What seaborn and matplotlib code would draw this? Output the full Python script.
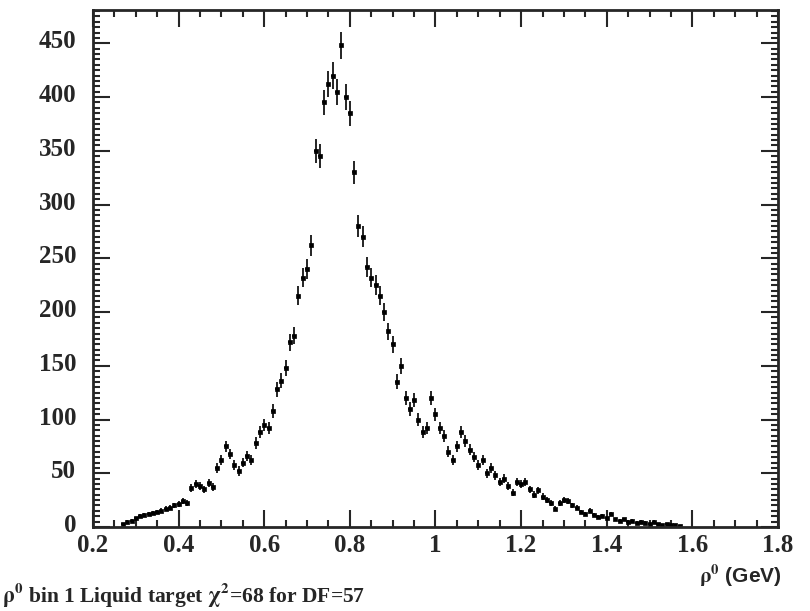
import numpy as np
import pandas as pd
import matplotlib
matplotlib.use("Agg")
import matplotlib.pyplot as plt
import matplotlib.transforms as mtransforms
from matplotlib.ticker import MultipleLocator, FixedLocator, FixedFormatter
import seaborn as sns

sns.set_style("ticks")
plt.rcParams['font.family'] = ['Liberation Serif', 'DejaVu Serif']
plt.rcParams['mathtext.fontset'] = 'stix'

# rho0 mass bins (GeV), counts
mass = [0.27, 0.28, 0.29, 0.30, 0.31, 0.32, 0.33, 0.34, 0.35, 0.36,
        0.37, 0.38, 0.39, 0.40, 0.41, 0.42, 0.43, 0.44, 0.45, 0.46,
        0.47, 0.48, 0.49, 0.50, 0.51, 0.52, 0.53, 0.54, 0.55, 0.56,
        0.57, 0.58, 0.59, 0.60, 0.61, 0.62, 0.63, 0.64, 0.65, 0.66,
        0.67, 0.68, 0.69, 0.70, 0.71, 0.72, 0.73, 0.74, 0.75, 0.76,
        0.77, 0.78, 0.79, 0.80, 0.81, 0.82, 0.83, 0.84, 0.85, 0.86,
        0.87, 0.88, 0.89, 0.90, 0.91, 0.92, 0.93, 0.94, 0.95, 0.96,
        0.97, 0.98, 0.99, 1.00, 1.01, 1.02, 1.03, 1.04, 1.05, 1.06,
        1.07, 1.08, 1.09, 1.10, 1.11, 1.12, 1.13, 1.14, 1.15, 1.16,
        1.17, 1.18, 1.19, 1.20, 1.21, 1.22, 1.23, 1.24, 1.25, 1.26,
        1.27, 1.28, 1.29, 1.30, 1.31, 1.32, 1.33, 1.34, 1.35, 1.36,
        1.37, 1.38, 1.39, 1.40, 1.41, 1.42, 1.43, 1.44, 1.45, 1.46,
        1.47, 1.48, 1.49, 1.50, 1.51, 1.52, 1.53, 1.54, 1.55, 1.56,
        1.57]
counts = [3, 5, 6, 8, 10, 11, 12, 13, 14, 15,
          17, 18, 20, 21, 24, 22, 36, 40, 38, 35,
          41, 37, 55, 62, 75, 68, 58, 52, 60, 66,
          62, 78, 88, 95, 92, 108, 128, 136, 148, 172,
          178, 215, 232, 240, 262, 350, 345, 395, 412, 420,
          405, 448, 400, 385, 330, 280, 270, 242, 232, 225,
          215, 200, 182, 170, 135, 150, 120, 110, 118, 100,
          88, 92, 120, 105, 92, 85, 70, 62, 75, 88,
          80, 72, 65, 58, 62, 50, 55, 48, 42, 45,
          38, 32, 42, 40, 42, 35, 30, 34, 28, 25,
          22, 17, 22, 25, 24, 20, 18, 14, 12, 15,
          11, 9, 10, 8, 12, 7, 6, 7, 5, 6,
          4, 5, 4, 3, 5, 3, 2, 3, 2, 2,
          1]

df = pd.DataFrame({"mass": mass, "counts": counts})
df["err"] = np.sqrt(df["counts"]) * 0.6

fig = plt.figure(figsize=(8.1, 6.11), dpi=100)
ax = fig.add_axes([0.1148, 0.1375, 0.8457, 0.8461])

ax.errorbar(df["mass"], df["counts"], yerr=df["err"], xerr=0.004,
            fmt="none", ecolor="black", elinewidth=1.2, capsize=0)
sns.scatterplot(data=df, x="mass", y="counts", ax=ax, color="black",
                marker="s", s=10, edgecolor="black", linewidth=0.5)

ax.set_xlim(0.2, 1.8)
ax.set_ylim(0, 481)
ax.xaxis.set_major_locator(FixedLocator([0.2, 0.4, 0.6, 0.8, 1.0, 1.2, 1.4, 1.6, 1.8]))
ax.xaxis.set_major_formatter(FixedFormatter(["0.2", "0.4", "0.6", "0.8", "1",
                                             "1.2", "1.4", "1.6", "1.8"]))
ax.xaxis.set_minor_locator(MultipleLocator(0.05))
ax.yaxis.set_major_locator(MultipleLocator(50))
ax.yaxis.set_minor_locator(MultipleLocator(5))
ax.tick_params(which="both", direction="in", top=True, right=True,
               labelsize=18, width=1.5)
ax.tick_params(which="major", length=12)
ax.tick_params(which="minor", length=5)
ax.tick_params(axis="y", pad=12)
ax.tick_params(axis="x", pad=5)
for lab in ax.get_xticklabels() + ax.get_yticklabels():
    lab.set_fontweight("bold")
# nudge y labels up a little, as in the original
shift = mtransforms.ScaledTranslation(0, 4 / 100, fig.dpi_scale_trans)
for lab in ax.get_yticklabels():
    lab.set_transform(lab.get_transform() + shift)
for sp in ax.spines.values():
    sp.set_linewidth(2)
ax.set_xlabel("")
ax.set_ylabel("")

fig.text(0.965, 0.036, r"$\mathbf{\rho^0}$ (GeV)", ha="right", va="bottom",
         fontsize=15, fontweight="bold", family=["Liberation Sans", "DejaVu Sans"])
fig.text(0.003, 0.004, r"$\mathbf{\rho^0}$ bin 1 Liquid target $\mathbf{\chi^2}$=68 for DF=57",
         ha="left", va="bottom", fontsize=15.5, fontweight="bold")

fig.savefig("out.png", dpi=100)
